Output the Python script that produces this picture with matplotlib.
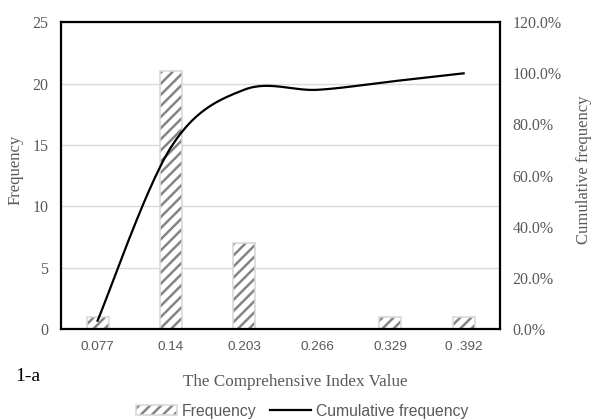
import numpy as np
import matplotlib
matplotlib.use("Agg")
import matplotlib.pyplot as plt
from matplotlib.patches import Patch
from matplotlib.lines import Line2D
from matplotlib.legend_handler import HandlerTuple
from matplotlib.ticker import PercentFormatter

categories = ["0.077", "0.14", "0.203", "0.266", "0.329", "0 .392"]
frequency = [1, 21, 7, 0, 1, 1]
cumulative = [1 / 31, 22 / 31, 29 / 31, 29 / 31, 30 / 31, 1.0]

SERIF = "Liberation Serif"
SANS = "Liberation Sans"
GREY = "#595959"
HATCH_GREY = "#858585"
EDGE = "#d9d9d9"

plt.rcParams["hatch.linewidth"] = 1.8


def smooth(xs, ys, n=30):
    # Catmull-Rom style smoothing, like a spreadsheet "smoothed line"
    xs = np.asarray(xs, float)
    ys = np.asarray(ys, float)
    px = np.concatenate([[xs[0]], xs, [xs[-1]]])
    py = np.concatenate([[ys[0]], ys, [ys[-1]]])
    out_x, out_y = [], []
    for i in range(1, len(px) - 2):
        p0, p1, p2, p3 = (np.array([px[j], py[j]]) for j in range(i - 1, i + 3))
        c1 = p1 + (p2 - p0) / 6
        c2 = p2 - (p3 - p1) / 6
        t = np.linspace(0, 1, n)[:, None]
        b = (1 - t) ** 3 * p1 + 3 * (1 - t) ** 2 * t * c1 + 3 * (1 - t) * t ** 2 * c2 + t ** 3 * p2
        out_x.extend(b[:, 0])
        out_y.extend(b[:, 1])
    return np.array(out_x), np.array(out_y)


fig = plt.figure(figsize=(5.92, 4.19), dpi=100)
ax = fig.add_axes([0.103, 0.215, 0.742, 0.732])
x = np.arange(len(categories))

# hatch drawn with a grey edge, then a light border on top
ax.bar(x, frequency, width=0.3, color="white", edgecolor=HATCH_GREY,
       hatch="///", linewidth=0, zorder=2)
ax.bar(x, frequency, width=0.3, fill=False, edgecolor=EDGE, linewidth=1.2, zorder=2)
ax.set_xlim(-0.5, len(categories) - 0.5)
ax.set_ylim(0, 25)
ax.set_yticks(range(0, 26, 5))
ax.set_xticks(x)
ax.set_xticklabels(categories, fontfamily=SANS, fontsize=9.7, color=GREY)
for lab in ax.get_yticklabels():
    lab.set_fontfamily(SERIF)
ax.tick_params(axis="y", labelsize=11.5, labelcolor=GREY, length=0, pad=9)
ax.tick_params(axis="x", length=0, pad=9)
ax.grid(axis="y", color=EDGE, linewidth=1.0, zorder=0)
ax.set_axisbelow(True)
for s in ax.spines.values():
    s.set_linewidth(1.6)
    s.set_color("black")
ax.set_ylabel("Frequency", fontfamily=SERIF, fontsize=12, color=GREY)
ax.yaxis.set_label_coords(-(61 - 16) / 439, (329 - 170) / 307)

ax2 = ax.twinx()
sx, sy = smooth(x, cumulative)
ax2.plot(sx, sy, color="black", linewidth=1.6, zorder=3)
ax2.set_ylim(0, 1.2)
ax2.set_yticks(np.arange(0, 1.21, 0.2))
ax2.yaxis.set_major_formatter(PercentFormatter(1.0, decimals=1))
for lab in ax2.get_yticklabels():
    lab.set_fontfamily(SERIF)
ax2.tick_params(axis="y", labelsize=11.5, labelcolor=GREY, length=0, pad=9)
for s in ax2.spines.values():
    s.set_visible(False)
ax2.set_ylabel("Cumulative frequency", fontfamily=SERIF, fontsize=12, color=GREY)
ax2.yaxis.set_label_coords(1 + (584 - 500) / 439, (329 - 170) / 307)
ax2.yaxis.label.set_va("center")
ax.yaxis.label.set_va("center")

ax.set_xlabel("The Comprehensive Index Value", fontfamily=SERIF, fontsize=12.3,
              color=GREY)
ax.xaxis.set_label_coords((295 - 61) / 439, -(382 - 329) / 307)
ax.xaxis.label.set_va("center")
fig.text(15 / 592, 1 - 376 / 419, "1-a", fontfamily=SERIF, fontsize=14,
         color="black", va="center")

bar_h = Patch(facecolor="white", edgecolor=HATCH_GREY, hatch="///", linewidth=0)
bar_b = Patch(fill=False, edgecolor=EDGE, linewidth=1.2)
line_h = Line2D([0], [0], color="black", linewidth=1.6)
leg = fig.legend([(bar_h, bar_b), line_h], ["Frequency", "Cumulative frequency"],
                 handler_map={tuple: HandlerTuple(ndivide=1, pad=0)},
                 loc="center", bbox_to_anchor=(302 / 592, 1 - 411 / 419),
                 ncol=2, frameon=False, prop={"family": SANS, "size": 11.3},
                 handlelength=2.6, handleheight=0.55, columnspacing=0.9,
                 handletextpad=0.3, borderpad=0)
for t in leg.get_texts():
    t.set_color(GREY)

fig.savefig("out.png", dpi=100)
